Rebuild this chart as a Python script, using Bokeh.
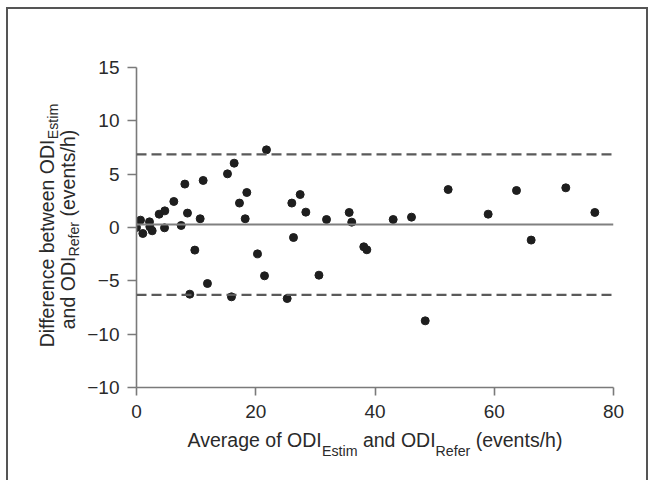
import math
from bokeh.plotting import figure
from bokeh.models import Span, Label, FixedTicker, Range1d
from bokeh.embed import file_html
from bokeh.resources import INLINE

# ---- data ----
avg = [0.0, 0.67, 1.06, 2.18, 2.24, 2.63, 3.8, 4.75, 4.7, 6.26, 7.49, 8.11, 8.55, 8.94,
       9.78, 10.68, 11.18, 11.9, 15.26, 16.38, 15.93, 17.27, 18.5, 18.23, 20.29, 21.8,
       21.47, 25.27, 26.05, 26.33, 27.45, 28.4, 30.6, 31.87, 35.67, 36.1, 38.12, 38.63,
       43.05, 46.12, 48.42, 52.27, 58.98, 63.73, 66.19, 72.0, 76.87]
diff = [0.0, 0.69, -0.56, 0.53, 0.07, -0.31, 1.25, 1.56, -0.03, 2.44, 0.19, 4.07, 1.35,
        -6.25, -2.12, 0.82, 4.41, -5.25, 5.03, 6.03, -6.5, 2.29, 3.28, 0.82, -2.47, 7.28,
        -4.53, -6.66, 2.29, -0.94, 3.09, 1.44, -4.47, 0.75, 1.41, 0.5, -1.81, -2.09, 0.75,
        0.97, -8.75, 3.56, 1.25, 3.47, -1.18, 3.72, 1.41]
mean_diff = 0.28
upper_loa = 6.86
lower_loa = -6.32
x_ticks = [0, 20, 40, 60, 80]
y_ticks = [-15, -10, -5, 0, 5, 10, 15]
y_tick_labels = ["\u221210", "\u221210", "\u22125", "0", "5", "10", "15"]

x_label_parts = [("Average of ODI", "main"), ("Estim", "sub"), ("and ODI", "main"),
                 ("Refer", "sub"), ("(events/h)", "main")]
y_label_line1 = [("Difference between ODI", "main"), ("Estim", "sub")]
y_label_line2 = [("and ODI", "main"), ("Refer", "sub"), ("(events/h)", "main")]

# side panel that hosts each text piece (side panels are not clipped to the frame)
x_label_panels = ["above", "below", "below", "below", "above"]
y_label_panels = [["left", "left"], ["right", "left", "left"]]

FONT = "Liberation Sans"
TEXT_COLOR = "#2a2a2a"
MAIN_SIZE = 19.5
SUB_SIZE = 14.2
X_SUB_DROP = 11
Y_SUB_DROP = 6

# Arial / Liberation Sans advance widths (per 1000 em)
W = {' ': 278, 'A': 667, 'v': 500, 'e': 556, 'r': 333, 'a': 556, 'g': 556, 'o': 556,
     'f': 278, 'O': 778, 'D': 722, 'I': 278, 'E': 667, 's': 500, 't': 278, 'i': 222,
     'm': 833, 'n': 556, 'd': 556, 'R': 722, '(': 333, ')': 333, '/': 278, 'h': 556,
     'c': 500, 'b': 556, 'w': 722}


def tw(s, size):
    return sum(W.get(ch, 556) for ch in s) * size / 1000.0


def layout_parts(parts):
    out = []
    pos = 0.0
    prev = None
    for text, kind in parts:
        if prev == "sub" and kind == "main":
            pos += tw(" ", MAIN_SIZE)
        out.append((text, kind, pos))
        pos += tw(text, MAIN_SIZE if kind == "main" else SUB_SIZE)
        prev = kind
    return out, pos


FIG_W, FIG_H = 648, 480
p = figure(width=FIG_W, height=FIG_H, output_backend="svg", toolbar_location=None,
           x_range=Range1d(0, 80), y_range=Range1d(-15, 15),
           min_border_left=136, min_border_right=35, min_border_top=67,
           min_border_bottom=93)
# outer frame lines (left, top, right) drawn as CSS backgrounds behind a transparent canvas
p.styles = {
    "background-color": "white",
    "background-image": "linear-gradient(#555,#555), linear-gradient(#555,#555), "
                        "linear-gradient(#555,#555)",
    "background-repeat": "no-repeat",
    "background-size": "2px 100%, 100% 2px, 2px 100%",
    "background-position": "6px 7px, 6px 7px, 646px 7px",
}
p.outline_line_color = None
p.grid.visible = False
p.background_fill_color = None
p.border_fill_color = None

for ax in (p.xaxis[0], p.yaxis[0]):
    ax.axis_line_color = "#7a7a7a"
    ax.axis_line_width = 1.6
    ax.major_tick_line_color = "#7a7a7a"
    ax.major_tick_line_width = 1.6
    ax.minor_tick_line_color = None
    ax.major_tick_in = 0
    ax.major_label_text_font = FONT
    ax.major_label_text_font_size = "19px"
    ax.major_label_text_color = TEXT_COLOR
    ax.axis_label = None

p.xaxis.ticker = FixedTicker(ticks=x_ticks)
p.xaxis.major_tick_out = 8
p.xaxis.major_label_standoff = 9
p.yaxis.ticker = FixedTicker(ticks=y_ticks)
p.yaxis.major_tick_out = 9
p.yaxis.major_label_standoff = 8
p.yaxis.major_label_overrides = {t: lab for t, lab in zip(y_ticks, y_tick_labels)}

# reference lines
p.add_layout(Span(location=upper_loa, dimension="width", line_color="#5a5a5a",
                  line_width=2.3, line_dash="10 5"))
p.add_layout(Span(location=lower_loa, dimension="width", line_color="#5a5a5a",
                  line_width=2.3, line_dash="10 5"))
p.add_layout(Span(location=mean_diff, dimension="width", line_color="#808080",
                  line_width=2.2))

p.scatter(avg, diff, size=8, color="#1e1e1e")

# x axis label (with subscripts)
parts, total = layout_parts(x_label_parts)
x_center = (x_ticks[0] + x_ticks[-1]) / 2
for (text, kind, start), side in zip(parts, x_label_panels):
    p.add_layout(Label(x=x_center, y=y_ticks[0], x_offset=start - total / 2,
                       y_offset=-52 - (X_SUB_DROP if kind == "sub" else 0),
                       text=text, text_font=FONT,
                       text_font_size=f"{MAIN_SIZE if kind == 'main' else SUB_SIZE}px",
                       text_color=TEXT_COLOR, text_align="left",
                       text_baseline="alphabetic"), side)

# y axis label (two rotated lines with subscripts)
y_mid = (y_ticks[0] + y_ticks[-1]) / 2
for line, base_x, sides, shift in ((y_label_line1, -90, y_label_panels[0], 2),
                                   (y_label_line2, -69, y_label_panels[1], -2)):
    parts, total = layout_parts(line)
    for (text, kind, start), side in zip(parts, sides):
        p.add_layout(Label(x=x_ticks[0], y=y_mid,
                           x_offset=base_x + (Y_SUB_DROP if kind == "sub" else 0),
                           y_offset=start - total / 2 + shift, angle=math.pi / 2,
                           text=text, text_font=FONT,
                           text_font_size=f"{MAIN_SIZE if kind == 'main' else SUB_SIZE}px",
                           text_color=TEXT_COLOR, text_align="left",
                           text_baseline="alphabetic"), side)

open("out.html", "w").write(file_html(p, INLINE))
